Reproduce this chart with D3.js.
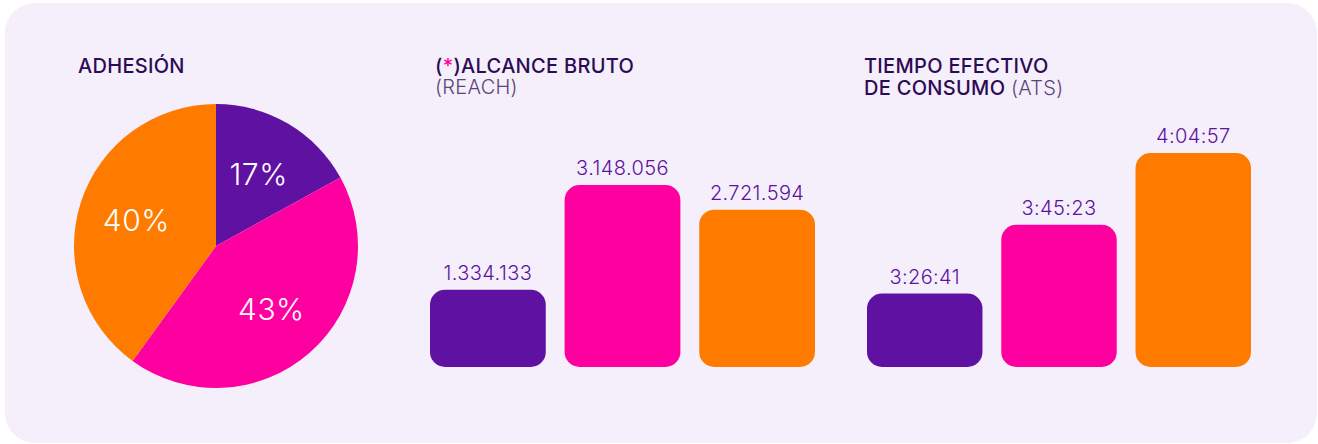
<!DOCTYPE html>
<html>
<head>
<meta charset="utf-8">
<script src="https://cdn.jsdelivr.net/npm/d3@7"></script>
<style>
  body { margin: 0; background: #ffffff; }
  text { font-family: Inter, "Noto Sans", sans-serif; }
</style>
</head>
<body>
<div id="main"></div>
<script>
// data
var adhesion = [17, 43, 40];
var reach = [1334133, 3148056, 2721594];
var ats = ["3:26:41", "3:45:23", "4:04:57"];
var groups = ["a", "b", "c"];

var COLORS = ["#5f11a1", "#ff00a0", "#ff7b00"];

var ctx = {
    w: 1318,
    h: 444,
    bottom: 367,
    label: "#5f11a1",
    title: "#2c0b55"
};

var toSec = function(s){
    var p = s.split(":").map(Number);
    return p[0]*3600 + p[1]*60 + p[2];
};

var fmt = d3.formatLocale({decimal: ",", thousands: ".", grouping: [3], currency: ["", ""]}).format(",d");

var svgEl = d3.select("#main").append("svg")
    .attr("width", ctx.w)
    .attr("height", ctx.h);

svgEl.append("rect")
    .attr("x", 5).attr("y", 3)
    .attr("width", 1312).attr("height", 440)
    .attr("rx", 30)
    .attr("fill", "#f4effa");

// titles
var title = function(x, y, parts){
    var t = svgEl.append("text").attr("x", x).attr("y", y)
        .attr("font-size", 20).attr("letter-spacing", 0.3).attr("fill", ctx.title);
    parts.forEach(function(p){
        t.append("tspan").text(p.t)
            .attr("font-weight", p.w || 500)
            .attr("fill", p.c || ctx.title);
    });
    return t;
};
title(78, 73, [{t: "ADHESIÓN"}]);
title(435, 73, [{t: "("}, {t: "*", c: "#ff00a0"}, {t: ")ALCANCE BRUTO"}]);
title(435, 94, [{t: "(REACH)", w: 300, c: "#5a4578"}]);
title(864, 73, [{t: "TIEMPO EFECTIVO"}]);
title(864, 95, [{t: "DE CONSUMO "}, {t: "(ATS)", w: 300, c: "#5a4578"}]);

// pie
var R = 142;
var pieG = svgEl.append("g").attr("transform", "translate(216,246)");
var pie = d3.pie().sort(null)(adhesion);
var arc = d3.arc().innerRadius(0).outerRadius(R);
var labelArc = d3.arc().innerRadius(R*0.59).outerRadius(R*0.59);
pieG.selectAll("path.slice")
    .data(pie)
    .enter()
    .append("path")
    .attr("class", "slice")
    .attr("d", arc)
    .attr("fill", (d, i) => COLORS[i]);
pieG.selectAll("text.pct")
    .data(pie)
    .enter()
    .append("text")
    .attr("class", "pct")
    .attr("transform", d => "translate(" + labelArc.centroid(d) + ")")
    .attr("text-anchor", "middle")
    .attr("dy", "0.36em")
    .attr("font-size", 30)
    .attr("font-weight", 300)
    .attr("letter-spacing", 0.5)
    .attr("fill", "#ffffff")
    .text(d => d.data + "%");

// bar groups
var drawBars = function(x0, x1, values, yScale, labels){
    var x = d3.scaleBand().domain(groups).range([x0, x1]).paddingInner(0.14);
    var g = svgEl.append("g");
    g.selectAll("rect")
        .data(values)
        .enter()
        .append("rect")
        .attr("x", (d, i) => x(groups[i]))
        .attr("y", d => ctx.bottom - yScale(d))
        .attr("width", x.bandwidth())
        .attr("height", d => yScale(d))
        .attr("rx", 15)
        .attr("fill", (d, i) => COLORS[i]);
    g.selectAll("text")
        .data(values)
        .enter()
        .append("text")
        .attr("x", (d, i) => x(groups[i]) + x.bandwidth()/2)
        .attr("y", d => ctx.bottom - yScale(d) - 10)
        .attr("text-anchor", "middle")
        .attr("font-size", 20)
        .attr("font-weight", 300)
        .attr("letter-spacing", 0.4)
        .attr("fill", ctx.label)
        .text((d, i) => labels[i]);
};

var yReach = d3.scaleLinear().domain([0, d3.max(reach)]).range([0, 182]);
drawBars(430, 815, reach, yReach, reach.map(fmt));

var atsSec = ats.map(toSec);
var yAts = d3.scaleLinear().domain([11200, d3.max(atsSec)]).range([0, 214]);
drawBars(867, 1251, atsSec, yAts, ats);
</script>
</body>
</html>
